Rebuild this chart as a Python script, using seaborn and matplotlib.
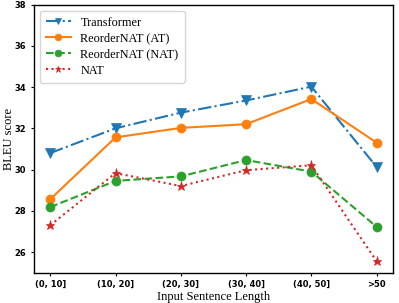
import matplotlib
matplotlib.use("Agg")
import matplotlib.pyplot as plt
import seaborn as sns
import pandas as pd

categories = ["(0, 10]", "(10, 20]", "(20, 30]", "(30, 40]", "(40, 50]", ">50"]
transformer = [30.8, 32.0, 32.76, 33.35, 34.02, 30.12]
reorder_at = [28.56, 31.56, 32.02, 32.2, 33.42, 31.3]
reorder_nat = [28.18, 29.45, 29.67, 30.46, 29.9, 27.22]
nat = [27.3, 29.83, 29.2, 29.97, 30.21, 25.55]
yticks = [26, 28, 30, 32, 34, 36, 38]

series = [
    ("Transformer", transformer, "#1f77b4", "v", "-."),
    ("ReorderNAT (AT)", reorder_at, "#ff7f0e", "o", "-"),
    ("ReorderNAT (NAT)", reorder_nat, "#2ca02c", "o", "--"),
    ("NAT", nat, "#d62728", "*", ":"),
]

fig, ax = plt.subplots(figsize=(3.99, 3.03), dpi=100)
x = list(range(len(categories)))
for name, vals, color, marker, ls in series:
    df = pd.DataFrame({"x": x, "y": vals})
    sns.lineplot(data=df, x="x", y="y", ax=ax, color=color, marker=marker,
                 linestyle=ls, markersize=6.5, markeredgewidth=0.5,
                 markeredgecolor=color, linewidth=1.5, label=name)

ax.set_xlim(-0.25, 5.25)
ax.set_ylim(25, 38)
ax.set_xticks(x)
ax.set_xticklabels(categories, fontsize=6, fontweight="bold", family="DejaVu Sans")
ax.set_yticks(yticks)
ax.set_yticklabels([str(v) for v in yticks], fontsize=6, fontweight="bold", family="DejaVu Sans")
ax.tick_params(axis="both", length=2.5, width=0.8, pad=3)
for s in ax.spines.values():
    s.set_linewidth(1.0)
ax.set_xlabel("Input Sentence Length", family="Liberation Serif", fontsize=9, labelpad=1)
ax.set_ylabel("BLEU score", family="Liberation Serif", fontsize=9)
ax.yaxis.set_label_coords(-0.052, 0.5)
leg = ax.legend(loc="upper left", prop={"family": "Liberation Serif", "size": 8.8},
                handlelength=2.0, borderpad=0.5, labelspacing=0.32, markerscale=0.75,
                handletextpad=0.8)
fig.subplots_adjust(left=0.085, right=0.985, top=0.985, bottom=0.1)
fig.savefig("out.png", dpi=100)
